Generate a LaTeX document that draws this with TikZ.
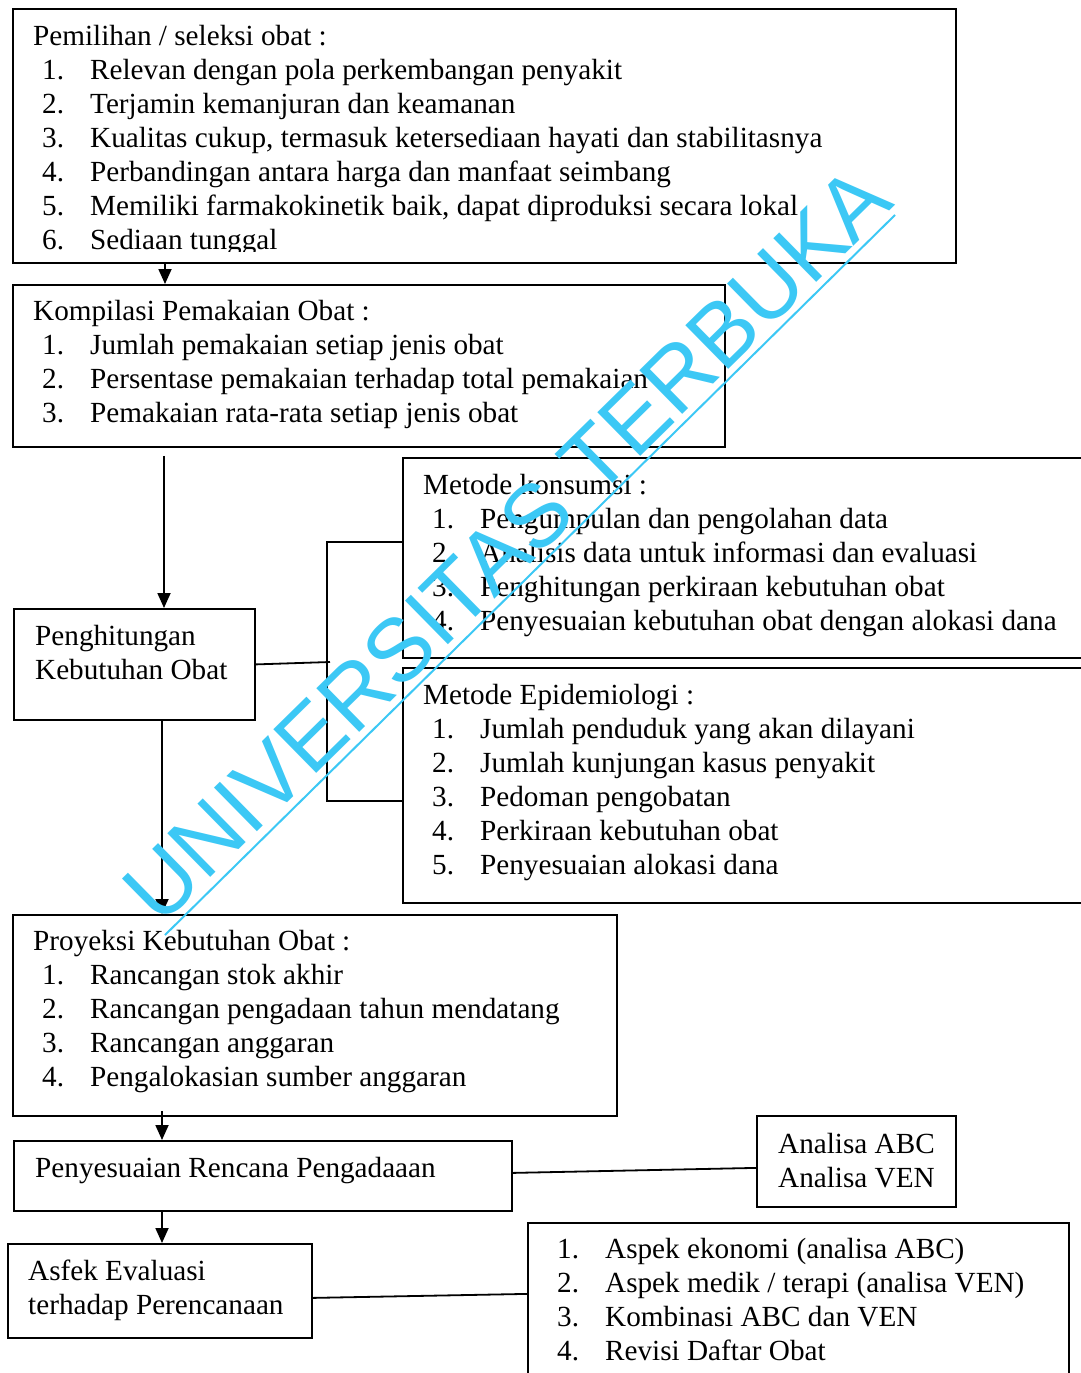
\documentclass[tikz,border=0pt]{standalone}
\usepackage{fontspec}
\setmainfont{Liberation Serif}
\newfontfamily\wmfont{Liberation Sans}
\usepackage{tikz}
\usetikzlibrary{backgrounds,arrows.meta}
\usepackage{xcolor}
\definecolor{ut}{HTML}{3CC8F5}

\tikzset{
	kotak/.style={draw, line width=1.8pt, inner sep=0pt, anchor=north west},
	teks/.style={anchor=base west, inner sep=0pt, font=\fontsize{29.2}{34}\selectfont},
	panah/.style={line width=1.8pt, -{Triangle[length=15pt,width=13pt]}},
	garis/.style={line width=1.8pt},
}

\begin{document}
\begin{tikzpicture}[x=1pt,y=-1pt,background rectangle/.style={fill=white},show background rectangle,inner frame sep=0pt]
	\useasboundingbox (0,0) rectangle (1081,1373);
	% kotak-kotak
	\node[kotak, minimum width=943pt, minimum height=254pt] (pilih) at (12,8) {};
	\node[kotak, minimum width=712pt, minimum height=162pt] (kompilasi) at (12,284) {};
	\node[kotak, minimum width=241pt, minimum height=111pt] (hitung) at (13,608) {};
	\node[kotak, minimum width=700pt, minimum height=200pt] (konsumsi) at (402,457) {};
	\node[kotak, minimum width=700pt, minimum height=235pt] (epi) at (402,667) {};
	\node[kotak, minimum width=604pt, minimum height=201pt] (proyeksi) at (12,914) {};
	\node[kotak, minimum width=498pt, minimum height=70pt] (sesuai) at (13,1140) {};
	\node[kotak, minimum width=199pt, minimum height=91pt] (analisa) at (756,1115) {};
	\node[kotak, minimum width=304pt, minimum height=94pt] (asfek) at (7,1243) {};
	\node[kotak, minimum width=541pt, minimum height=180pt] (aspek) at (527,1222) {};

	% isi teks
	\begin{scope}
		\clip (pilih.north west) rectangle ([yshift=12pt]pilih.south east);
		\node[teks] (pilihtxt) at (33,45) {\begin{tabular}[t]{@{\hspace{9pt}}p{48pt}@{}l@{}}
			\multicolumn{2}{@{}l@{}}{Pemilihan / seleksi obat :}\\
			1. & Relevan dengan pola perkembangan penyakit\\
			2. & Terjamin kemanjuran dan keamanan\\
			3. & Kualitas cukup, termasuk ketersediaan hayati dan stabilitasnya\\
			4. & Perbandingan antara harga dan manfaat seimbang\\
			5. & Memiliki farmakokinetik baik, dapat diproduksi secara lokal\\
			6. & Sediaan tunggal
		\end{tabular}};
	\end{scope}
	\node[teks] (kompilasitxt) at (33,320) {\begin{tabular}[t]{@{\hspace{9pt}}p{48pt}@{}l@{}}
		\multicolumn{2}{@{}l@{}}{Kompilasi Pemakaian Obat :}\\
		1. & Jumlah pemakaian setiap jenis obat\\
		2. & Persentase pemakaian terhadap total pemakaian\\
		3. & Pemakaian rata-rata setiap jenis obat
	\end{tabular}};
	\node[teks] (hitungtxt) at (35,645) {\begin{tabular}[t]{@{}l@{}}
		Penghitungan\\ Kebutuhan Obat
	\end{tabular}};
	\node[teks] (konsumsitxt) at (423,494) {\begin{tabular}[t]{@{\hspace{9pt}}p{48pt}@{}l@{}}
		\multicolumn{2}{@{}l@{}}{Metode konsumsi :}\\
		1. & Pengumpulan dan pengolahan data\\
		2. & Analisis data untuk informasi dan evaluasi\\
		3. & Penghitungan perkiraan kebutuhan obat\\
		4. & Penyesuaian kebutuhan obat dengan alokasi dana
	\end{tabular}};
	\node[teks] (epitxt) at (423,704) {\begin{tabular}[t]{@{\hspace{9pt}}p{48pt}@{}l@{}}
		\multicolumn{2}{@{}l@{}}{Metode Epidemiologi :}\\
		1. & Jumlah penduduk yang akan dilayani\\
		2. & Jumlah kunjungan kasus penyakit\\
		3. & Pedoman pengobatan\\
		4. & Perkiraan kebutuhan obat\\
		5. & Penyesuaian alokasi dana
	\end{tabular}};
	\node[teks] (proyeksitxt) at (33,950) {\begin{tabular}[t]{@{\hspace{9pt}}p{48pt}@{}l@{}}
		\multicolumn{2}{@{}l@{}}{Proyeksi Kebutuhan Obat :}\\
		1. & Rancangan stok akhir\\
		2. & Rancangan pengadaan tahun mendatang\\
		3. & Rancangan anggaran\\
		4. & Pengalokasian sumber anggaran
	\end{tabular}};
	\node[teks] (sesuaitxt) at (35,1177) {Penyesuaian Rencana Pengadaaan};
	\node[teks] (analisatxt) at (778,1153) {\begin{tabular}[t]{@{}l@{}}
		Analisa ABC\\ Analisa VEN
	\end{tabular}};
	\node[teks] (asfektxt) at (28,1280) {\begin{tabular}[t]{@{}l@{}}
		Asfek Evaluasi\\ terhadap Perencanaan
	\end{tabular}};
	\node[teks] (aspektxt) at (548,1258) {\begin{tabular}[t]{@{\hspace{9pt}}p{48pt}@{}l@{}}
		1. & Aspek ekonomi (analisa ABC)\\
		2. & Aspek medik / terapi (analisa VEN)\\
		3. & Kombinasi ABC dan VEN\\
		4. & Revisi Daftar Obat
	\end{tabular}};

	% panah dan garis
	\draw[panah] ([xshift=153pt]pilih.south west) -- ([xshift=153pt]kompilasi.north west);
	\draw[panah] ([xshift=152pt,yshift=-8pt]kompilasi.south west) -- ([xshift=151pt]hitung.north west);
	\draw[panah] ([xshift=149pt]hitung.south west) -- ([xshift=150pt]proyeksi.north west);
	\draw[panah] ([xshift=150pt,yshift=6pt]proyeksi.south west) -- ([xshift=149pt]sesuai.north west);
	\draw[panah] ([xshift=149pt]sesuai.south west) -- ([xshift=155pt]asfek.north west);

	\coordinate (cabang) at (327,662);
	\draw[garis] (hitung.east) -- ([xshift=3pt]cabang);
	\draw[garis] ([yshift=16pt]konsumsi.west) -| (cabang) |- ([yshift=-15.5pt]epi.west);
	\draw[garis] ([yshift=3pt]sesuai.east) -- ([yshift=-6.5pt]analisa.west);
	\draw[garis] ([yshift=-7pt]asfek.east) -- ([yshift=19pt]aspek.west);

	% watermark
	\node[ut, rotate=44.5, anchor=base west, inner sep=0pt, font=\wmfont\fontsize{89}{89}\selectfont] (wm) at (160,928) {UNIVERSITAS TERBUKA};
	\draw[ut, line width=2pt] (165,935) -- (895,215);
\end{tikzpicture}
\end{document}
